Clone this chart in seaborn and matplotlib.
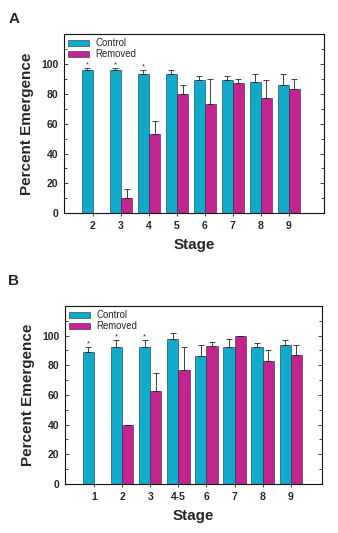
import numpy as np
import pandas as pd
import matplotlib
matplotlib.use("Agg")
import matplotlib.pyplot as plt
import seaborn as sns
from matplotlib.ticker import MultipleLocator

# Panel A data
stages_a = ["2", "3", "4", "5", "6", "7", "8", "9"]
control_a = [96, 96, 93, 93, 89, 89, 88, 86]
control_err_a = [1, 1, 3, 3, 3, 3, 5, 7]
removed_a = [0, 10, 53, 80, 73, 87, 77, 83]
removed_err_a = [0, 6, 9, 6, 17, 3, 12, 7]
signif_a = [True, True, True, False, False, False, False, False]

# Panel B data
stages_b = ["1", "2", "3", "4-5", "6", "7", "8", "9"]
control_b = [89, 92, 92, 98, 86, 92, 92, 94]
control_err_b = [3, 5, 5, 4, 8, 6, 3, 3]
removed_b = [0, 40, 63, 77, 93, 100, 83, 87]
removed_err_b = [0, 0, 12, 15, 3, 0, 7, 7]
signif_b = [True, True, True, False, False, False, False, False]

groups = ["Control", "Removed"]
colors = {"Control": "#10AACB", "Removed": "#C4248E"}

sns.set_style("ticks")
plt.rcParams["font.family"] = ["Liberation Sans", "DejaVu Sans"]


def draw_panel(ax, stages, ctrl, ctrl_err, rem, rem_err, signif, xlim):
    df = pd.DataFrame({
        "Stage": stages * 2,
        "Group": ["Control"] * len(stages) + ["Removed"] * len(stages),
        "Value": ctrl + rem,
    })
    sns.barplot(data=df, x="Stage", y="Value", hue="Group", hue_order=groups,
                palette=colors, saturation=1, width=0.8, edgecolor="#1a2a40",
                linewidth=0.4, errorbar=None, ax=ax)

    # upper-only error bars from the bar positions
    for i, (cont, vals, errs) in enumerate(zip(ax.containers, [ctrl, rem],
                                               [ctrl_err, rem_err])):
        xs = [p.get_x() + p.get_width() / 2 for p in cont.patches]
        lo = np.zeros(len(vals))
        ax.errorbar(xs, vals, yerr=[lo, errs], fmt="none", ecolor="#222222",
                    elinewidth=0.6, capsize=2.2, capthick=0.6, zorder=1)
        if i == 0:
            for x, v, e, s in zip(xs, vals, errs, signif):
                if s:
                    ax.text(x, v + e, "*", ha="center", va="bottom",
                            fontsize=5.5, color="#333333")

    ax.set_ylim(0, 120)
    ax.set_xlim(*xlim)
    ax.yaxis.set_minor_locator(MultipleLocator(10))
    ax.set_yticks([0, 20, 40, 60, 80, 100])
    ax.tick_params(axis="y", which="both", direction="in", right=True,
                   labelsize=7.5, width=0.6, pad=4)
    ax.tick_params(axis="y", which="major", length=3)
    ax.tick_params(axis="y", which="minor", length=2)
    ax.tick_params(axis="x", direction="out", length=2.5, width=0.6,
                   labelsize=7.5, pad=3)
    for lab in ax.get_xticklabels() + ax.get_yticklabels():
        lab.set_fontweight("bold")
    for sp in ax.spines.values():
        sp.set_linewidth(0.8)
        sp.set_color("#111111")
    ax.set_xlabel("Stage", fontsize=11, fontweight="bold", labelpad=5)
    ax.set_ylabel("Percent Emergence", fontsize=11, fontweight="bold", labelpad=5)
    ax.legend(loc="upper left", frameon=False, fontsize=6.9, handlelength=2.2,
              handleheight=0.7, borderaxespad=0.15, labelspacing=0.1,
              handletextpad=0.6, borderpad=0.3)


fig = plt.figure(figsize=(3.38, 5.33), dpi=100)
ax_a = fig.add_axes([0.189, 0.600, 0.769, 0.336])
ax_b = fig.add_axes([0.192, 0.092, 0.760, 0.334])

draw_panel(ax_a, stages_a, control_a, control_err_a, removed_a, removed_err_a,
           signif_a, (-1.04, 8.25))
draw_panel(ax_b, stages_b, control_b, control_err_b, removed_b, removed_err_b,
           signif_b, (-1.03, 8.1))

fig.text(0.025, 0.965, "A", fontsize=11, fontweight="bold", va="center")
fig.text(0.025, 0.473, "B", fontsize=11, fontweight="bold", va="center")

fig.savefig("out.png", dpi=100)
